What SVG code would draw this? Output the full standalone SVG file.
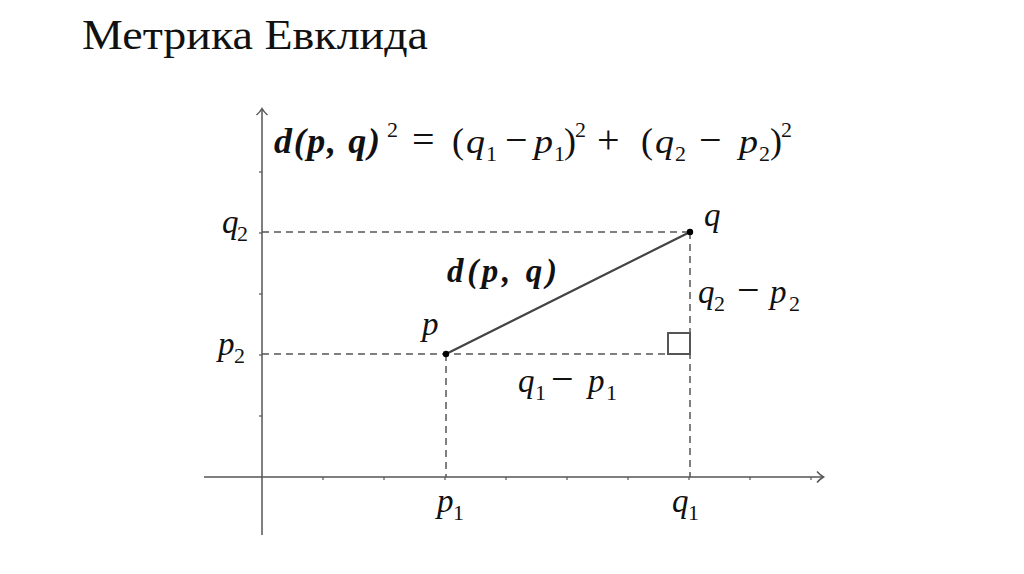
<svg xmlns="http://www.w3.org/2000/svg" width="1024" height="574" viewBox="0 0 1024 574">
<style>
.title{font-family:'Liberation Serif','DejaVu Serif','Noto Serif',serif;font-size:42px;fill:#111}
.m{font-family:'Liberation Serif','DejaVu Serif','Noto Serif',serif;font-size:33px;fill:#111}
.i{font-style:italic}
.s{font-size:22px;font-style:normal}
.op{font-size:40px;font-style:normal}
.pr{font-size:36px;font-style:normal}
.b{font-weight:bold;font-style:italic}
.axis{stroke:#555;stroke-width:1.5;fill:none}
.tick{stroke:#555;stroke-width:1.2}
.dash{stroke:#555;stroke-width:1.5;stroke-dasharray:7 5;fill:none}
</style>
<rect width="1024" height="574" fill="#fff"/>
<text class="title" x="82" y="49" textLength="346" lengthAdjust="spacingAndGlyphs">Метрика Евклида</text>

<g id="axes">
<line class="axis" x1="262" y1="109" x2="262" y2="535"/>
<path class="axis" d="M256.5,115 Q260,112 262,108.5 Q264,112 267.5,115"/>
<line class="axis" x1="204" y1="477" x2="823" y2="477"/>
<path class="axis" d="M817,471.5 Q820,475 823.5,477 Q820,479 817,482.5"/>
<g class="tick">
<line x1="323" y1="477" x2="323" y2="480"/><line x1="384" y1="477" x2="384" y2="480"/>
<line x1="445" y1="477" x2="445" y2="480"/><line x1="506" y1="477" x2="506" y2="480"/>
<line x1="567" y1="477" x2="567" y2="480"/><line x1="628" y1="477" x2="628" y2="480"/>
<line x1="689" y1="477" x2="689" y2="480"/><line x1="750" y1="477" x2="750" y2="480"/>
<line x1="811" y1="477" x2="811" y2="480"/>
<line x1="259" y1="172" x2="262" y2="172"/><line x1="259" y1="233" x2="262" y2="233"/>
<line x1="259" y1="294" x2="262" y2="294"/><line x1="259" y1="355" x2="262" y2="355"/>
<line x1="259" y1="416" x2="262" y2="416"/>
</g>
</g>

<g id="connectors">
<line class="dash" x1="262" y1="232" x2="690" y2="232"/>
<line class="dash" x1="262" y1="354" x2="690" y2="354"/>
<line class="dash" x1="446" y1="354" x2="446" y2="477"/>
<line class="dash" x1="690" y1="232" x2="690" y2="477"/>
<line x1="446" y1="354" x2="690" y2="232" stroke="#444" stroke-width="2.2"/>
<rect x="668" y="333" width="22" height="21" fill="none" stroke="#555" stroke-width="2"/>
</g>

<g id="point-p">
<circle cx="446" cy="354" r="3.2" fill="#000"/>
<text class="m i" x="422" y="335">p</text>
</g>
<g id="point-q">
<circle cx="690" cy="232" r="3.2" fill="#000"/>
<text class="m i" x="704" y="226">q</text>
</g>

<g id="label-d">
<text class="m b" x="447" y="282" font-size="36" textLength="110" lengthAdjust="spacing">d(p, q)</text>
</g>

<g id="formula">
<text class="m" y="153">
<tspan class="b" x="274" textLength="106" lengthAdjust="spacing" font-size="36">d(p, q)</tspan>
<tspan class="s" x="387" y="137">2</tspan>
<tspan class="op" x="412" y="153">=</tspan>
<tspan class="pr" x="452">(</tspan>
<tspan class="i" x="466" textLength="19" lengthAdjust="spacingAndGlyphs">q</tspan>
<tspan class="s" x="486" y="161">1</tspan>
<tspan class="op" x="505" y="153">−</tspan>
<tspan class="i" x="534" textLength="19" lengthAdjust="spacingAndGlyphs">p</tspan>
<tspan class="s" x="554" y="161">1</tspan>
<tspan class="pr" x="564" y="153">)</tspan>
<tspan class="s" x="575" y="137">2</tspan>
<tspan class="op" x="597" y="153">+</tspan>
<tspan class="pr" x="641">(</tspan>
<tspan class="i" x="655" textLength="19" lengthAdjust="spacingAndGlyphs">q</tspan>
<tspan class="s" x="675" y="161">2</tspan>
<tspan class="op" x="699" y="153">−</tspan>
<tspan class="i" x="739" textLength="19" lengthAdjust="spacingAndGlyphs">p</tspan>
<tspan class="s" x="759" y="161">2</tspan>
<tspan class="pr" x="770" y="153">)</tspan>
<tspan class="s" x="781" y="137">2</tspan>
</text>
</g>

<g id="label-q2">
<text class="m" y="233"><tspan class="i" x="222">q</tspan><tspan class="s" x="237" y="241">2</tspan></text>
</g>
<g id="label-p2">
<text class="m" y="355"><tspan class="i" x="218">p</tspan><tspan class="s" x="234" y="363">2</tspan></text>
</g>
<g id="label-p1">
<text class="m" y="512"><tspan class="i" x="437">p</tspan><tspan class="s" x="453" y="520">1</tspan></text>
</g>
<g id="label-q1">
<text class="m" y="512"><tspan class="i" x="672">q</tspan><tspan class="s" x="688" y="520">1</tspan></text>
</g>
<g id="label-dy">
<text class="m" y="303"><tspan class="i" x="698">q</tspan><tspan class="s" x="714" y="311">2</tspan><tspan class="op" x="737" y="303">−</tspan><tspan class="i" x="770">p</tspan><tspan class="s" x="789" y="311">2</tspan></text>
</g>
<g id="label-dx">
<text class="m" y="392"><tspan class="i" x="518">q</tspan><tspan class="s" x="535" y="400">1</tspan><tspan class="op" x="551" y="392">−</tspan><tspan class="i" x="588">p</tspan><tspan class="s" x="606" y="400">1</tspan></text>
</g>
</svg>
